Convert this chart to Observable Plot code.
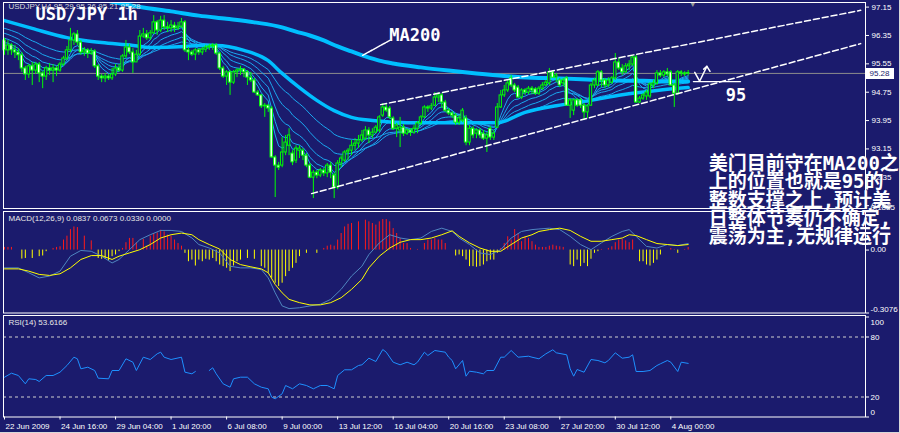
<!DOCTYPE html>
<html><head><meta charset="utf-8">
<script src="https://cdn.jsdelivr.net/npm/d3@7"></script>
<script src="https://cdn.jsdelivr.net/npm/@observablehq/plot@0.6"></script>
<style>
html,body{margin:0;padding:0;background:#1b1b6d;}
#chart{position:relative;width:900px;height:433px;background:#1b1b6d;overflow:hidden;}
#chart svg{position:absolute;left:0;top:0;}
#chart .edge-r{position:absolute;right:0;top:0;width:1px;height:433px;background:#d8d8d8;}
#chart .edge-b{position:absolute;left:0;bottom:0;height:1px;width:900px;background:#d8d8d8;}
</style></head>
<body><div id="chart"><div class="edge-r"></div><div class="edge-b"></div></div>
<script>
// ---------------- DATA ----------------
const barOpen = [
96.21,95.93,96.07,95.93,95.87,95.79,95.42,95.25,95.48,95.36,
95.53,95.28,95.19,95.42,95.36,95.42,95.36,95.53,95.70,95.93,
96.21,96.38,96.15,95.87,95.93,95.84,95.90,95.48,95.19,95.14,
95.19,95.14,95.25,95.42,95.36,95.76,96.01,95.87,95.59,95.81,
96.32,96.38,96.27,96.41,96.72,96.49,96.77,96.58,96.55,96.63,
96.55,96.60,96.72,95.93,95.87,95.81,95.93,95.87,95.95,96.01,
96.04,96.07,95.84,95.42,95.19,95.31,95.02,95.31,95.36,95.39,
95.31,95.16,95.08,94.74,94.66,94.35,94.37,94.29,92.91,92.68,
92.68,93.05,93.24,93.02,92.82,93.10,93.10,92.96,92.68,92.34,
92.48,92.40,92.54,92.46,92.68,92.40,92.06,92.74,92.82,93.05,
93.10,93.24,93.30,93.39,93.44,93.67,93.53,93.61,93.67,94.09,
94.32,94.29,94.01,93.72,93.67,93.75,93.58,93.67,93.61,93.72,
93.87,94.04,94.32,94.29,94.37,94.60,94.66,94.46,94.23,94.15,
94.09,93.89,93.95,94.01,93.33,93.72,93.58,93.67,93.58,93.44,
93.72,93.47,93.75,94.32,94.66,94.80,95.14,94.94,94.88,94.60,
94.80,94.74,94.85,94.83,94.71,94.85,94.94,95.00,95.31,95.16,
95.08,95.00,95.14,94.37,94.23,94.52,94.52,94.37,94.18,94.37,
94.94,94.94,95.31,95.08,94.94,95.02,95.14,95.59,95.42,95.31,
95.48,95.53,95.73,94.46,94.57,94.63,94.63,94.94,95.00,95.28,
95.22,95.31,95.31,94.94,94.71,95.31,95.28,95.29];
const barHigh = [
96.27,96.21,96.12,96.07,95.98,95.87,95.48,95.53,95.59,95.59,
95.59,95.33,95.48,95.56,95.53,95.48,95.59,95.76,96.04,96.55,
96.43,96.49,96.21,96.01,95.98,95.98,95.95,95.53,95.25,95.28,
95.25,95.42,95.53,95.53,95.81,96.21,96.10,95.98,95.93,96.49,
96.55,96.49,96.49,96.91,96.77,96.89,96.91,96.72,96.77,96.72,
96.72,96.83,96.77,96.01,95.93,95.98,95.98,96.01,96.07,96.10,
96.12,96.12,95.87,95.48,95.36,95.36,95.36,95.42,95.48,95.42,
95.36,95.31,95.14,94.80,94.68,94.43,94.40,94.35,92.96,92.77,
93.47,93.53,93.72,93.10,93.24,93.24,93.16,93.02,92.74,92.54,
92.54,92.60,92.60,92.74,92.77,92.46,92.82,92.96,93.10,93.16,
93.39,93.44,93.53,93.67,93.78,93.75,93.72,93.81,94.09,94.43,
94.40,94.35,94.06,93.87,94.04,93.84,93.72,93.72,93.81,93.92,
94.09,94.37,94.37,94.43,94.74,94.74,94.71,94.52,94.29,94.20,
94.15,94.09,94.29,94.09,93.81,93.78,93.72,93.72,93.67,93.61,
93.78,93.67,94.43,94.80,94.94,95.08,95.22,95.00,94.94,94.85,
94.85,94.91,94.91,94.88,94.91,95.02,95.08,95.42,95.36,95.28,
95.14,95.14,95.19,94.57,94.57,94.57,94.57,94.43,94.40,95.00,
95.14,95.36,95.36,95.14,95.16,95.19,95.84,95.70,95.53,95.56,
95.64,95.79,95.79,94.63,94.71,94.80,95.02,95.08,95.36,95.36,
95.36,95.42,95.36,95.00,95.36,95.36,95.33,95.36];
const barLow = [
95.79,95.79,95.79,95.70,95.64,95.31,95.08,95.14,94.94,95.25,
95.02,94.85,95.08,95.22,95.02,95.19,95.31,95.48,95.64,95.87,
96.07,96.07,95.79,95.76,95.70,95.79,95.42,95.08,95.02,95.02,
95.08,95.08,95.19,95.31,95.31,95.70,95.81,95.28,95.70,95.76,
96.27,96.21,96.21,96.38,96.35,96.43,96.49,96.43,96.43,96.43,
96.49,96.55,95.87,95.64,95.76,95.64,95.79,95.79,95.87,95.93,
95.93,95.79,95.36,95.14,94.94,94.66,94.97,95.16,95.22,95.16,
94.94,95.02,94.71,94.63,94.29,94.04,94.18,92.88,91.78,92.54,
92.62,92.96,92.96,92.68,92.74,92.88,92.82,92.62,92.31,91.75,
92.31,92.34,92.37,92.34,92.31,91.75,92.00,92.62,92.77,92.82,
92.96,93.10,93.16,93.33,93.39,93.30,93.44,93.58,93.61,94.04,
94.18,93.98,93.67,93.47,93.19,93.50,93.53,93.50,93.56,93.58,
93.81,94.01,94.18,94.23,94.35,94.46,94.29,94.18,94.09,94.01,
93.81,93.81,93.89,93.24,93.24,93.44,93.44,93.44,93.39,93.05,
93.39,93.39,93.72,94.29,94.60,94.74,94.88,94.74,94.57,94.54,
94.66,94.68,94.68,94.66,94.66,94.80,94.91,94.94,95.14,95.02,
94.88,94.91,94.35,94.01,94.09,94.32,94.29,93.95,94.01,94.35,
94.85,94.91,94.88,94.85,94.88,94.97,95.08,95.36,95.22,95.28,
95.36,95.48,94.43,94.43,94.52,94.52,94.57,94.85,94.94,95.16,
95.16,95.19,94.91,94.32,94.66,95.19,95.19,95.21];
const barClose = [
95.93,96.07,95.93,95.87,95.79,95.42,95.25,95.48,95.36,95.53,
95.28,95.19,95.42,95.36,95.42,95.36,95.53,95.70,95.93,96.21,
96.38,96.15,95.87,95.93,95.84,95.90,95.48,95.19,95.14,95.19,
95.14,95.25,95.42,95.36,95.76,96.01,95.87,95.59,95.81,96.32,
96.38,96.27,96.41,96.72,96.49,96.77,96.58,96.55,96.63,96.55,
96.60,96.72,95.93,95.87,95.81,95.93,95.87,95.95,96.01,96.04,
96.07,95.84,95.42,95.19,95.31,95.02,95.31,95.36,95.39,95.31,
95.16,95.08,94.74,94.66,94.35,94.37,94.29,92.91,92.68,92.62,
93.05,93.33,93.53,92.77,93.16,93.16,92.96,92.68,92.34,92.48,
92.40,92.54,92.46,92.68,92.48,92.06,92.74,92.88,93.05,93.10,
93.24,93.30,93.39,93.53,93.67,93.53,93.61,93.75,94.04,94.32,
94.23,94.04,93.72,93.81,93.75,93.58,93.67,93.61,93.72,93.87,
94.04,94.32,94.29,94.35,94.60,94.66,94.46,94.23,94.15,94.09,
93.89,94.01,94.23,93.33,93.72,93.53,93.67,93.53,93.44,93.53,
93.47,93.58,94.32,94.66,94.80,95.00,94.94,94.80,94.60,94.80,
94.74,94.85,94.80,94.71,94.85,94.94,95.02,95.31,95.16,95.22,
94.94,95.08,94.37,94.52,94.52,94.37,94.37,94.18,94.35,94.94,
95.08,95.31,95.08,94.94,95.08,95.14,95.59,95.42,95.31,95.48,
95.53,95.73,94.46,94.57,94.66,94.74,94.97,95.00,95.28,95.22,
95.31,95.25,94.94,94.71,95.31,95.28,95.25,95.28];
const currentPrice = 95.28;

// moving averages drawn on the price panel
const ma200Idx = [28,32,40,48,56,64,72,80,84,88,92,96,100,104,108,112,120,128,136,144,152,160,168,176,184,192,197];
const ma200Val = [97.37,97.28,97.14,97.03,96.91,96.82,96.72,96.58,96.46,96.35,96.21,96.04,95.90,95.76,95.64,95.56,95.45,95.36,95.28,95.21,95.16,95.14,95.11,95.08,95.07,95.05,95.05];
const maMidIdx = [0,8,18,23,28,37,42,52,56,61,69,76,80,85,90,95,100,106,116,126,134,142,150,159,169,178,188,197];
const maMidVal = [96.77,96.55,96.29,96.21,96.15,96.07,96.01,96.04,96.07,96.07,95.93,95.64,95.28,94.88,94.52,94.23,94.04,93.95,93.89,93.89,93.89,93.89,94.18,94.37,94.52,94.68,94.80,94.88];
const emaPeriods = [5, 8, 13, 21, 34];
const emaSeeds = [96.07, 96.15, 96.27, 96.41, 96.55];

// drawn annotations
const channelUpperIdx = [108.4, 246.7], channelUpperPrice = [94.40, 97.06];
const channelLowerIdx = [88.5, 246.7], channelLowerPrice = [91.89, 96.12];
const pointerIdx = [103.2, 111.0], pointerPrice = [95.79, 96.21];
const supportIdx = [198.5, 212.1], supportPrice = [95.05, 95.05];
const checkIdx = [198.9, 200.3, 202.4], checkPrice = [95.31, 95.06, 95.48];
const arrowIdx = [201.5, 202.4, 203.3], arrowPrice = [95.40, 95.48, 95.34];
const shiftMarkerIdx = 198.3;
const labelMA200 = {i: 110.9, price: 96.35, text: "MA200"};
const label95 = {i: 207.8, price: 94.66, text: "95"};
const noteLines = ["美门目前守在MA200之", "上的位置也就是95的", "整数支撑之上,预计美", "日整体节奏仍不确定,", "震荡为主,无规律运行"];
const notePos = {i: 202.9, price: 91.69};
const chartTitle = "USD/JPY 1h";
const symbolLabel = "USDJPY,H4 95.29 95.36 95.21 95.28";

// MACD panel
const macdIdx = [0,4,7,10,13,16,19,22,25,28,31,33,36,39,42,45,48,51,54,56,59,62,65,68,71,74,76,78,80,82,85,88,91,94,97,100,103,105,108,111,114,117,120,123,126,129,131,134,137,140,143,146,149,152,154,157,160,163,166,169,172,175,178,180,182,185,188,191,194,197];
const macdMain = [-0.087,-0.087,-0.111,-0.136,-0.127,-0.103,-0.030,-0.002,-0.006,-0.030,-0.063,-0.046,0.002,0.051,0.075,0.096,0.096,0.091,0.059,0.027,0.010,-0.014,-0.079,-0.087,-0.087,-0.095,-0.136,-0.209,-0.273,-0.286,-0.282,-0.273,-0.265,-0.241,-0.192,-0.127,-0.079,-0.022,0.035,0.075,0.059,0.051,0.059,0.091,0.107,0.091,0.059,0.027,-0.014,-0.022,0.002,0.059,0.091,0.100,0.103,0.107,0.100,0.067,0.027,0.002,0.035,0.067,0.091,0.100,0.067,0.018,0.010,0.027,0.022,0.032];
const macdSignal = [-0.092,-0.092,-0.103,-0.119,-0.124,-0.116,-0.087,-0.046,-0.027,-0.027,-0.046,-0.030,-0.014,0.002,0.027,0.059,0.075,0.083,0.075,0.051,0.027,0.005,-0.046,-0.071,-0.082,-0.092,-0.111,-0.168,-0.209,-0.241,-0.257,-0.268,-0.268,-0.257,-0.233,-0.192,-0.143,-0.087,-0.030,0.010,0.038,0.051,0.051,0.059,0.075,0.094,0.067,0.035,0.010,-0.006,-0.006,0.027,0.059,0.075,0.091,0.100,0.107,0.096,0.067,0.043,0.043,0.051,0.059,0.075,0.071,0.051,0.032,0.027,0.022,0.027];
const macdHist = [
0.013,0.013,0.013,null,null,-0.044,-0.041,null,-0.041,null,
-0.032,-0.029,-0.008,null,0.008,0.013,0.016,0.049,0.068,0.100,
0.113,0.110,null,0.068,null,0.045,null,-0.041,-0.045,-0.045,
-0.052,-0.032,-0.024,-0.008,0.008,0.036,0.057,0.057,0.036,null,
0.052,0.019,0.068,0.081,0.084,0.097,0.089,0.073,0.068,0.049,
0.032,0.019,-0.016,-0.057,-0.049,-0.078,-0.049,-0.057,-0.045,-0.049,
-0.041,-0.057,-0.073,-0.081,-0.089,-0.105,-0.078,-0.057,-0.049,null,
-0.041,null,-0.045,null,-0.081,-0.089,-0.113,-0.138,-0.162,-0.178,
-0.162,-0.130,-0.105,-0.089,-0.065,-0.032,null,-0.016,null,null,
-0.016,null,0.008,0.019,0.024,0.019,0.049,0.081,0.113,0.126,
0.130,null,0.138,null,0.146,0.138,0.130,0.122,0.138,0.149,
0.149,0.138,0.105,0.081,0.057,0.032,0.032,0.008,null,0.003,
null,0.032,0.049,0.049,0.057,0.049,0.049,0.032,null,null,
-0.029,-0.024,-0.032,-0.049,-0.081,-0.081,-0.084,-0.081,-0.073,-0.057,
-0.049,-0.049,-0.016,0.008,0.032,0.065,0.049,0.100,0.081,0.041,
0.065,0.057,0.041,0.024,0.013,0.013,0.013,0.019,0.024,0.019,
0.016,0.013,null,-0.073,-0.081,-0.049,-0.081,-0.065,-0.081,-0.045,
-0.016,-0.008,0.003,null,0.008,0.016,0.036,0.049,0.052,0.045,
0.036,0.049,null,-0.057,-0.057,-0.073,-0.078,-0.065,-0.049,-0.024,
null,null,0.008,0.003,-0.016,null,0.003,0.013];
const macdLabel = "MACD(12,26,9) 0.0837 0.0673 0.0330 0.0000";
const macdMax = 0.1885, macdMin = -0.3076;
const macdTickText = ["0.1885", "0.00", "-0.3076"];

// RSI panel
const rsiIdx = [0,2,4,6,7,9,10,12,14,16,18,20,21,22,24,26,27,30,31,33,35,37,38,40,42,44,45,46,48,51,52,54,55,57,59,60,61,63,65,66,68,70,72,74,76,77,78,80,81,83,85,87,89,91,93,95,96,98,100,102,103,105,107,109,110,112,114,116,118,119,121,122,124,127,128,129,130,132,133,134,136,138,139,141,143,144,146,148,151,152,154,156,158,159,162,163,164,165,167,169,171,173,174,176,178,180,181,182,184,186,188,189,191,192,194,195,197];
const rsiVal = [39.8,43.8,41.5,33.2,38.2,37.5,35.5,41.5,41.5,44.8,51.5,59.8,58.2,48.2,49.8,46.5,38.8,38.2,46.5,46.5,58.2,54.8,46.5,59.8,57.5,63.2,64.8,59.8,57.5,59.8,44.8,43.2,45.5,null,46.5,49.2,43.2,33.2,29.8,38.2,39.8,39.8,33.2,29.8,28.2,19.8,18.2,23.2,31.5,28.2,33.2,31.5,28.2,31.5,31.5,28.2,41.5,47.2,47.2,51.5,52.2,58.8,55.5,67.5,64.8,54.8,52.2,54.8,52.2,54.8,64.8,61.5,66.5,64.8,59.8,56.5,48.2,56.5,40.8,45.8,44.8,43.2,46.5,46.5,59.8,59.8,66.5,59.8,60.8,59.8,58.2,63.2,67.2,64.2,62.2,48.2,40.8,47.5,44.8,57.5,56.5,54.2,56.5,64.2,58.8,59.8,62.2,45.5,45.5,46.5,51.5,53.2,56.5,54.8,45.5,54.8,53.6];
const rsiLevels = [80, 20];
const rsiLabel = "RSI(14) 53.6166";

// axes
const priceTicks = [97.15, 96.35, 95.55, 94.75, 93.95, 93.15, 92.35, 91.55];
const timeTickIdx = [0,16,32,48,64,80,96,112,128,144,160,176,192];
const timeTickLabels = ["22 Jun 2009","24 Jun 16:00","29 Jun 04:00","1 Jul 20:00","6 Jul 08:00","9 Jul 00:00","13 Jul 12:00","16 Jul 04:00","20 Jul 16:00","23 Jul 08:00","27 Jul 20:00","30 Jul 12:00","4 Aug 00:00"];

// ---------------- DRAWING ----------------
const NAVY = "#1b1b6d";
const W = 900, H = 433;
const X_DOMAIN = [-0.288, 248.1];
const SANS = "'Liberation Sans', Arial, sans-serif";
const MONO = "'DejaVu Sans Mono', monospace";
const baseStyle = {background: "transparent", color: "white", fontFamily: SANS, fontSize: "8px", overflow: "visible"};

const bars = barClose.map((c, i) => ({i, open: barOpen[i], high: barHigh[i], low: barLow[i], close: c}));
function ema(values, n, seed) {
  const a = 2 / (n + 1); let e = seed;
  return values.map((v, k) => { if (k > 0) e = e + a * (v - e); return e; });
}
const emaPts = emaPeriods.flatMap((n, k) => ema(barClose, n, emaSeeds[k]).map((v, i) => ({i, v, k})));
const histPts = macdHist.map((v, i) => ({i, v})).filter(d => d.v !== null);

// white box behind the current-price label on the right axis
function priceBox(index, scales, values, dims) {
  const y = scales.y(currentPrice);
  const x0 = dims.width - dims.marginRight + 1;
  const g = d3.create("svg:g");
  g.append("rect").attr("x", x0).attr("y", Math.round(y) - 5).attr("width", 28).attr("height", 11).attr("fill", "#ffffff");
  return g.node();
}

const line = (xs, ys, opts) => Plot.line(xs, {x: d => d, y: (d, i) => ys[i], ...opts});

const mainPlot = Plot.plot({
  width: W, height: H,
  marginTop: 2, marginBottom: H - 208, marginLeft: 3, marginRight: W - 865,
  style: baseStyle,
  x: {domain: X_DOMAIN, axis: null},
  y: {domain: [91.47, 97.28], axis: "right", ticks: priceTicks, tickFormat: d => d.toFixed(2), tickSize: 3, tickPadding: 3, label: null},
  marks: [
    Plot.ruleY([currentPrice], {stroke: "#8c8c8c"}),
    Plot.line(emaPts, {x: "i", y: "v", z: "k", stroke: "#1aa8f0", strokeWidth: 1, clip: true}),
    line(maMidIdx, maMidVal, {stroke: "#00bfff", strokeWidth: 3.5, curve: "monotone-x", clip: true}),
    line(ma200Idx, ma200Val, {stroke: "#00bfff", strokeWidth: 4, curve: "monotone-x", clip: true}),
    Plot.ruleX(bars, {x: "i", y1: "low", y2: "high", stroke: "#00ff00"}),
    Plot.rect(bars, {x1: d => d.i - 0.34, x2: d => d.i + 0.34, y1: "open", y2: "close",
      fill: d => d.close < d.open ? "white" : NAVY, stroke: "#00ff00", strokeWidth: 1}),
    line(channelUpperIdx, channelUpperPrice, {stroke: "white", strokeDasharray: "6,3"}),
    line(channelLowerIdx, channelLowerPrice, {stroke: "white", strokeDasharray: "6,3"}),
    line(pointerIdx, pointerPrice, {stroke: "white", strokeDasharray: "2,1"}),
    line(supportIdx, supportPrice, {stroke: "white", strokeWidth: 1.2}),
    line(checkIdx, checkPrice, {stroke: "white", strokeWidth: 1.5}),
    line(arrowIdx, arrowPrice, {stroke: "white", strokeWidth: 1.5}),
    Plot.text([shiftMarkerIdx], {x: d => d, text: () => "▼", frameAnchor: "top", lineAnchor: "top", dy: 0, fontSize: 7, fill: "#9a9a9a"}),
    Plot.text([labelMA200, label95], {x: "i", y: "price", text: "text", textAnchor: "start",
      fontFamily: MONO, fontWeight: "bold", fontSize: 17, fill: "white"}),
    Plot.text([symbolLabel], {text: d => d, frameAnchor: "top-left", dx: 5, dy: 1, fontSize: 8, fill: "#dcdcdc"}),
    Plot.text([chartTitle], {text: d => d, frameAnchor: "top-left", dx: 32, dy: 5, fontFamily: MONO, fontWeight: "bold", fontSize: 17, fill: "white"}),
    Plot.frame({stroke: "white"}),
    priceBox,
    Plot.text([currentPrice], {y: d => d, text: d => d.toFixed(2), frameAnchor: "right", textAnchor: "start", dx: 4, fill: NAVY, fontSize: 8}),
    Plot.text([notePos], {x: "i", y: "price", text: () => noteLines.join("\n"), textAnchor: "start", lineAnchor: "middle",
      lineHeight: 0.97, fontSize: 19, fontWeight: "bold", fontFamily: "'DejaVu Sans Mono','Noto Sans CJK SC',sans-serif", fill: "white"})
  ]
});

const rightLabel = (vals, texts, dy) => Plot.text(vals, {y: d => d, text: (d, i) => texts[i], frameAnchor: "right", textAnchor: "start", dx: 5, dy, fill: "white"});

const macdPlot = Plot.plot({
  width: W, height: H,
  marginTop: 211, marginBottom: H - 312.5, marginLeft: 3, marginRight: W - 865,
  style: baseStyle,
  x: {domain: X_DOMAIN, axis: null},
  y: {domain: [macdMin, macdMax], axis: "right", ticks: [macdMax, 0, macdMin], tickFormat: () => "", tickSize: 3, label: null},
  marks: [
    Plot.ruleX(histPts, {x: "i", y1: 0, y2: "v", stroke: d => d.v >= 0 ? "#ff1a1a" : "#ffff00"}),
    line(macdIdx, macdMain, {stroke: "#4f86c0", strokeWidth: 1}),
    line(macdIdx, macdSignal, {stroke: "#ffff00", strokeWidth: 1}),
    Plot.text([macdLabel], {text: d => d, frameAnchor: "top-left", dx: 5, dy: 4, fill: "#e8e8e8"}),
    rightLabel([macdMax], [macdTickText[0]], -4),
    rightLabel([0], [macdTickText[1]], -1),
    rightLabel([macdMin], [macdTickText[2]], -4),
    Plot.frame({stroke: "white"})
  ]
});

const rsiPlot = Plot.plot({
  width: W, height: H,
  marginTop: 315, marginBottom: H - 416.5, marginLeft: 3, marginRight: W - 865,
  style: baseStyle,
  x: {domain: X_DOMAIN, axis: "bottom", ticks: timeTickIdx, tickFormat: () => "", tickSize: 3, label: null},
  y: {domain: [0, 101.5], axis: "right", ticks: [100, 80, 20, 0], tickFormat: () => "", tickSize: 3, label: null},
  marks: [
    Plot.ruleY(rsiLevels, {stroke: "#d0d0d0", strokeDasharray: "3,3"}),
    line(rsiIdx, rsiVal, {stroke: "#1e90ff", strokeWidth: 1}),
    Plot.text([rsiLabel], {text: d => d, frameAnchor: "top-left", dx: 5, dy: 4, fill: "#e8e8e8"}),
    rightLabel([100], ["100"], 5),
    rightLabel(rsiLevels, rsiLevels.map(String), 0),
    rightLabel([0], ["0"], -5),
    Plot.text(timeTickIdx, {x: d => d, text: (d, i) => timeTickLabels[i], frameAnchor: "bottom", textAnchor: "start",
      lineAnchor: "middle", dy: 9, dx: 1, fill: "white"}),
    Plot.frame({stroke: "white"})
  ]
});

const chart = document.getElementById("chart");
chart.appendChild(macdPlot);
chart.appendChild(rsiPlot);
chart.appendChild(mainPlot);
</script></body></html>
